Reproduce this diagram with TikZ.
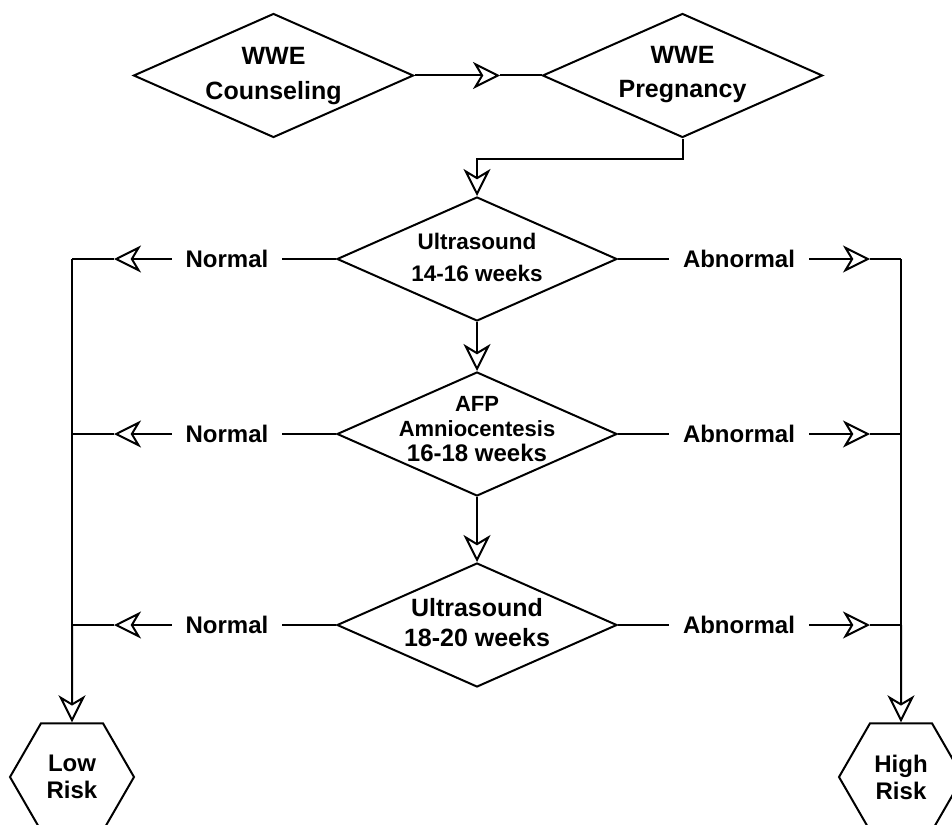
\documentclass[tikz,border=0pt]{standalone}
\usepackage{fontspec}
\setmainfont{Liberation Sans}
\usetikzlibrary{shapes.geometric,arrows.meta}
\newcommand{\dtext}[1]{\smash{\makebox[0pt]{\raisebox{-0.25em}{\begin{tabular}{@{}c@{}}#1\end{tabular}}}}}
\begin{document}
\begin{tikzpicture}[x=1pt,y=-1pt, line width=2pt,
  dia/.style={draw, diamond, minimum width=280pt, minimum height=124pt, inner sep=0pt},
  hexbox/.style={draw, regular polygon, regular polygon sides=6, minimum size=124pt, inner sep=0pt, align=center, font=\fontsize{24}{27}\selectfont\bfseries},
  lbl/.style={inner xsep=13pt, inner ysep=0pt, font=\fontsize{24}{28}\selectfont\bfseries},
  arr/.style={-{Stealth[length=27pt,width=27pt,inset=8pt,fill=white]}}]
\useasboundingbox (0,0) rectangle (952,824);
\fill[white] (0,0) rectangle (952,824);
\clip (0,0) rectangle (952,824);

% decision diamonds
\node[dia, font=\fontsize{25}{35}\selectfont\bfseries] (c) at (273.5,75.5) {\raisebox{2pt}{\dtext{WWE\\Counseling}}};
\node[dia, font=\fontsize{25}{34}\selectfont\bfseries] (p) at (682.5,75.5) {\raisebox{3pt}{\dtext{WWE\\Pregnancy}}};
\node[dia, font=\fontsize{22.5}{32}\selectfont\bfseries] (u1) at (477,259) {\dtext{Ultrasound\\14-16 weeks}};
\node[dia, font=\fontsize{22}{25}\selectfont\bfseries] (a) at (477,434) {\raisebox{6pt}{\dtext{AFP\\Amniocentesis\\\fontsize{24}{25}\selectfont 16-18 weeks}}};
\node[dia, font=\fontsize{25}{30}\selectfont\bfseries] (u2) at (477,625) {\dtext{Ultrasound\\18-20 weeks}};

% outcome hexagons
\node[hexbox] (low) at (72,777) {Low\\Risk};
\node[hexbox] (high) at (901,777) {High\\Risk};

% branch labels
\node[lbl] (n1) at (227,259) {Normal};
\node[lbl] (n2) at (227,434) {Normal};
\node[lbl] (n3) at (227,625) {Normal};
\node[lbl] (b1) at (739,259) {Abnormal};
\node[lbl] (b2) at (739,434) {Abnormal};
\node[lbl] (b3) at (739,625) {Abnormal};

% helper coordinates
\coordinate (t1) at (500,75.5);
\coordinate (L1) at (72,259);
\coordinate (L2) at (72,434);
\coordinate (L3) at (72,625);
\coordinate (Lt1) at (114,259);
\coordinate (Lt2) at (114,434);
\coordinate (Lt3) at (114,625);
\coordinate (R1) at (901,259);
\coordinate (R2) at (901,434);
\coordinate (R3) at (901,625);
\coordinate (Rt1) at (870,259);
\coordinate (Rt2) at (870,434);
\coordinate (Rt3) at (870,625);

% main flow
\draw[arr] (c.east) -- (t1);
\draw (t1) -- (p.west);
\draw[arr] (p.south) -- ++(0,20) -| (u1.north);
\draw[arr] (u1.south) -- (a.north);
\draw[arr] (a.south) -- (u2.north);

% branches
\foreach \i/\d in {1/u1,2/a,3/u2}{
  \draw (\d.west) -- (n\i.east);
  \draw[arr] (n\i.west) -- (Lt\i);
  \draw (Lt\i) -- (L\i);
  \draw (\d.east) -- (b\i.west);
  \draw[arr] (b\i.east) -- (Rt\i);
  \draw (Rt\i) -- (R\i);
}
\draw (L1) -- (L3);
\draw[arr] (L3) -- (low.north);
\draw (R1) -- (R3);
\draw[arr] (R3) -- (high.north);
\end{tikzpicture}
\end{document}
